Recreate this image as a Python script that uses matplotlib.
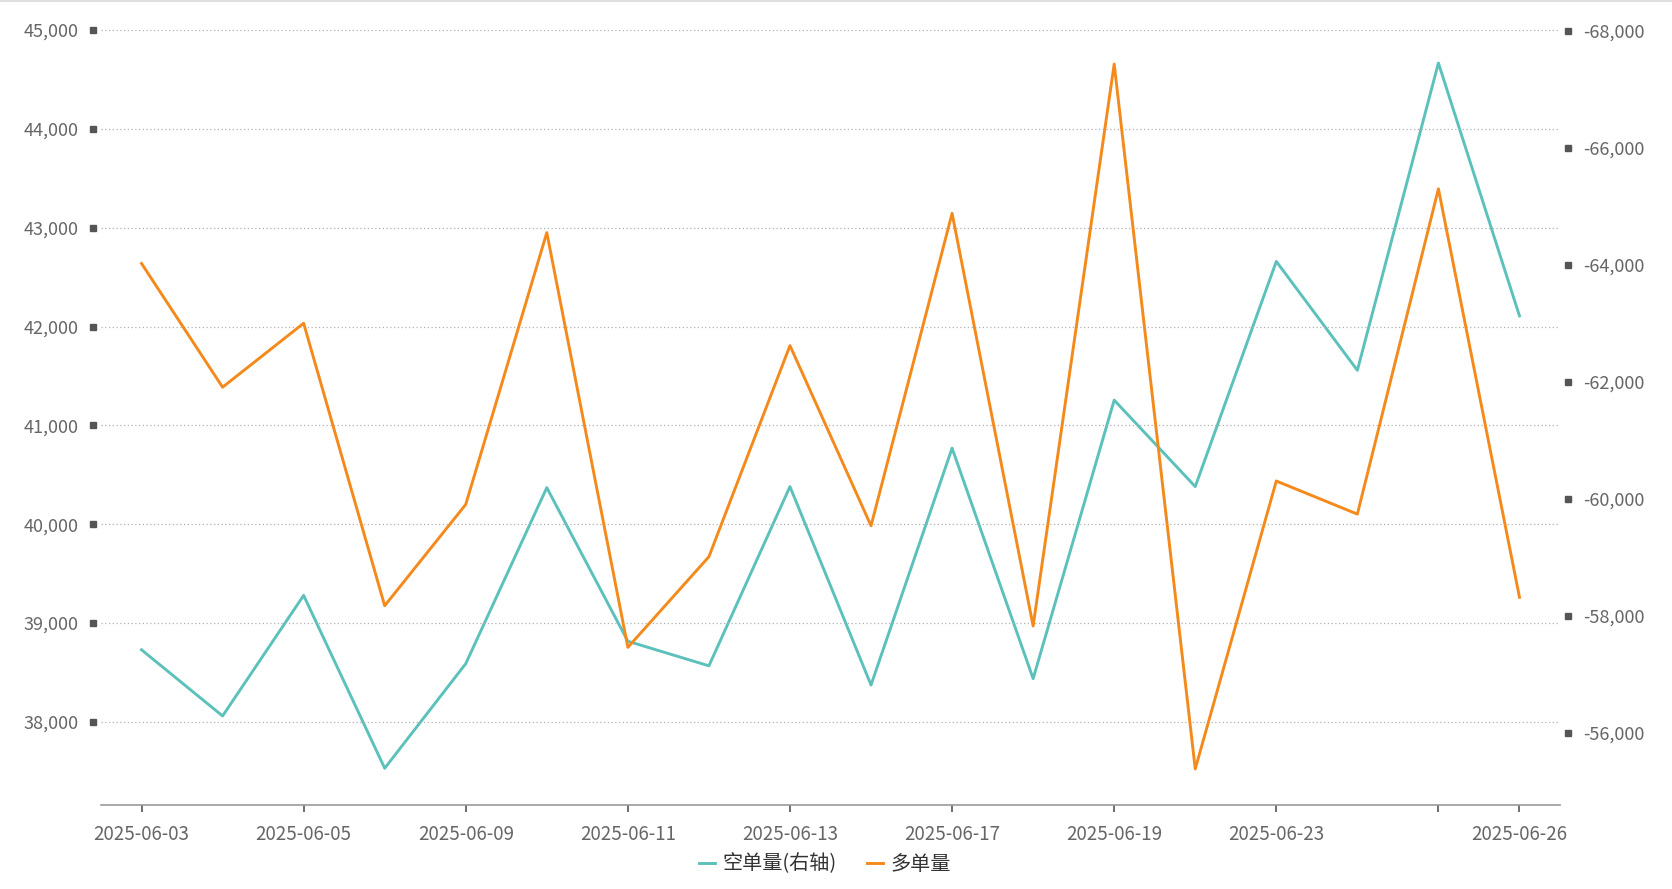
import matplotlib
matplotlib.use('Agg')
import matplotlib.pyplot as plt
import matplotlib.transforms as mtransforms
from matplotlib.lines import Line2D
from matplotlib.ticker import FuncFormatter

plt.rcParams['font.family'] = ['Noto Sans CJK SC', 'DejaVu Sans']

# data
dates = ['2025-06-03', '2025-06-04', '2025-06-05', '2025-06-06', '2025-06-09', '2025-06-10',
         '2025-06-11', '2025-06-12', '2025-06-13', '2025-06-16', '2025-06-17', '2025-06-18',
         '2025-06-19', '2025-06-20', '2025-06-23', '2025-06-24', '2025-06-25', '2025-06-26']
short_qty = [-57422, -56291, -58352, -55397, -57185, -60194, -57568, -57148, -60212,
             -56820, -60869, -56929, -61690, -60212, -64061, -62200, -67453, -63130]
long_qty = [42638, 41386, 42033, 39175, 40200, 42950, 38754, 39671, 41807,
            39984, 43145, 38970, 44655, 37524, 40437, 40102, 43393, 39261]
left_ticks = [38000, 39000, 40000, 41000, 42000, 43000, 44000, 45000]
right_ticks = [-56000, -58000, -60000, -62000, -64000, -66000, -68000]
label_idx = [0, 2, 4, 6, 8, 10, 12, 14, 16, 17]

teal = '#5cc1bb'
orange = '#f48a1c'
txt = '#666666'

fig = plt.figure(figsize=(16.72, 8.89), dpi=100)
ax = fig.add_axes([101 / 1672, 1 - 805 / 889, 1459 / 1672, 775 / 889])
ax2 = ax.twinx()

x = list(range(len(dates)))
l1, = ax2.plot(x, short_qty, color=teal, lw=2.1, label='空单量(右轴)')
l2, = ax.plot(x, long_qty, color=orange, lw=2.1, label='多单量')
ax.set_zorder(ax2.get_zorder() + 1)
ax.patch.set_visible(False)

ax.set_xlim(-0.5, 17.5)
ax.set_ylim(37159, 45000)
ax2.set_ylim(-54769, -68017)

comma = FuncFormatter(lambda v, p: f'{v:,.0f}')
ax.set_yticks(left_ticks)
ax.yaxis.set_major_formatter(comma)
ax2.set_yticks(right_ticks)
ax2.yaxis.set_major_formatter(comma)
ax.tick_params(axis='y', length=0, pad=16, labelsize=13, labelcolor=txt)
ax2.tick_params(axis='y', length=0, pad=17, labelsize=13, labelcolor=txt)

ax.set_xticks([x[i] for i in label_idx])
ax.set_xticklabels([dates[i] if i != 16 else '' for i in label_idx])
ax.tick_params(axis='x', length=5, width=1.2, color='#555555', pad=9,
               labelsize=13.5, labelcolor=txt)

ax.grid(axis='y', color='#b0b0b0', lw=0.9, linestyle=(0, (1, 2)))
ax.set_axisbelow(True)

for a in (ax, ax2):
    for s in ('top', 'left', 'right'):
        a.spines[s].set_visible(False)
ax2.spines['bottom'].set_visible(False)
ax.spines['bottom'].set_color('#999999')
ax.spines['bottom'].set_linewidth(1.2)

# small square markers beside the y labels
tl = mtransforms.blended_transform_factory(ax.transAxes, ax.transData)
ax.plot([-0.0055] * len(left_ticks), left_ticks, 's', ms=4, color='#555555',
        transform=tl, clip_on=False)
tr = mtransforms.blended_transform_factory(ax2.transAxes, ax2.transData)
ax2.plot([1.0055] * len(right_ticks), right_ticks, 's', ms=4, color='#555555',
         transform=tr, clip_on=False)

fig.legend(handles=[l1, l2], loc='center', bbox_to_anchor=(0.4934, 0.028), ncol=2,
           frameon=False, fontsize=14.5, handlelength=0.8, handletextpad=0.35,
           columnspacing=1.5, labelcolor='#333333')

fig.add_artist(Line2D([0, 1], [0.9985, 0.9985], color='#e0e0e0', lw=1.5))

fig.savefig('out.png', dpi=100)
